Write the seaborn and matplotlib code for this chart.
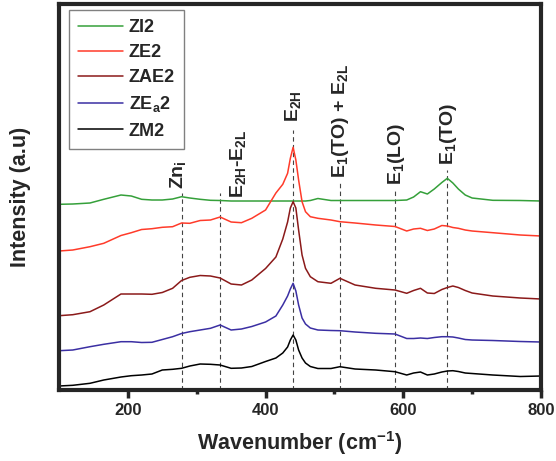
import numpy as np
import pandas as pd
import matplotlib as mpl
mpl.use('Agg')
import matplotlib.pyplot as plt
import seaborn as sns

# Raman shift grid (cm^-1) and offset spectra
wavenumber = [100, 120, 145, 165, 190, 205, 220, 235, 250, 265, 278, 290,
              305, 320, 334, 350, 365, 380, 400, 415, 425, 432, 436, 440,
              444, 448, 453, 458, 465, 476, 495, 508, 530, 560, 588, 605,
              615, 625, 635, 645, 656, 664, 672, 680, 690, 700, 730, 770,
              800]

zi2 = [185.7, 186, 187, 190.7, 195, 194, 190.7, 190, 190, 191, 193.3, 192,
       190.7, 189.7, 189.5, 189, 189, 189, 189, 189, 189, 189, 189, 189,
       189, 189, 189, 189, 189.5, 191.5, 189.5, 189.5, 189.5, 189.5, 189.5,
       190, 193, 198.3, 196, 201, 207.5, 211.7, 207, 201, 195, 192, 189.7,
       189.5, 189]

ze2 = [139, 140, 143.3, 146.7, 154.5, 157.3, 160.5, 161.3, 162.7, 163.3,
       167, 166.7, 169.5, 170, 173, 168, 167.3, 171.7, 180, 197, 205.7,
       216.7, 231.7, 242.7, 230, 210, 188.3, 178.3, 173.3, 171.7, 170,
       168.3, 167, 165, 163.5, 159, 161, 161.7, 159.5, 161, 164.5, 164,
       162.5, 161.7, 160, 159, 157.3, 155, 154]

zae2 = [74.3, 75.3, 78.3, 85, 96, 96, 96, 95.7, 97.5, 101.7, 109.5, 112.7,
        114.5, 114, 112, 106, 105, 110, 121.5, 133, 151, 168, 182, 188.3,
        182, 160, 135, 121.7, 113.3, 108.3, 106.7, 111.7, 105, 101.7, 100,
        96.7, 99.5, 101.7, 97, 96.5, 100.5, 102.5, 104, 102.5, 99.5, 97, 94,
        92, 91]

zea2 = [39.3, 40, 43.3, 45.7, 48.3, 48.3, 47.5, 47.7, 50.5, 53.3, 56.5,
        58.3, 60, 61.7, 65, 60, 61, 63.5, 68, 74, 85, 94, 101, 106.7, 99,
        85, 72, 66, 62, 60, 59.5, 59.3, 58, 56.7, 56, 51.5, 51.5, 52, 51.5,
        52.5, 53.3, 53.3, 53, 52, 50.5, 50, 49.5, 48.5, 48]

zm2 = [4, 4.7, 6.7, 10, 13, 14.3, 15, 16, 20, 20.7, 21.7, 24, 26, 25.7, 25,
       21.7, 22, 23.5, 28.5, 32, 37, 43, 50, 55, 50, 40, 32, 27, 23.5, 21.5,
       21.5, 23.3, 21, 20, 18.3, 15, 17, 18, 15, 16, 18, 19, 19.3, 18.5, 17,
       16.5, 15, 13.5, 14]

sample_names = ['ZI2', 'ZE2', 'ZAE2', 'ZE$_a$2', 'ZM2']
sample_colors = ['#35a03a', '#ff3b2a', '#8b1a1a', '#3b2fa3', '#000000']

# phonon mode assignments
mode_labels = ['Zn$_i$', 'E$_{2H}$-E$_{2L}$', 'E$_{2H}$',
               'E$_1$(TO) + E$_{2L}$', 'E$_1$(LO)', 'E$_1$(TO)']
mode_pos = [278, 334, 440, 508, 588, 664]


def main():
    sns.set_style('ticks')
    plt.rcParams['font.family'] = ['Liberation Sans', 'DejaVu Sans']
    plt.rcParams['font.weight'] = 'bold'
    plt.rcParams['mathtext.default'] = 'regular'

    spectra = pd.DataFrame({
        'Wavenumber': wavenumber * 5,
        'Intensity': zi2 + ze2 + zae2 + zea2 + zm2,
        'Sample': np.repeat(sample_names, len(wavenumber)),
        })

    fig = plt.figure(figsize=(5.56, 4.61), dpi=100)
    ax = fig.add_axes([0.1061, 0.154, 0.8669, 0.8384])

    sns.lineplot(data=spectra, x='Wavenumber', y='Intensity', hue='Sample',
                 hue_order=sample_names, palette=sample_colors, sort=False,
                 estimator=None, lw=1.1, ax=ax)

    # dashed guides and rotated mode labels
    guide_top = [197, 197, 260, 208, 200, 220]
    lab_x = [273, 360, 439.5, 509.5, 590.5, 665]
    lab_y = [201, 192, 268, 212, 205, 225]
    ax.vlines(mode_pos, 0, guide_top, colors='#444444', lw=0.8,
              linestyles=(0, (4, 3)), zorder=1)
    for lab, x, y in zip(mode_labels, lab_x, lab_y):
        ax.text(x, y, lab, rotation=90, ha='center', va='bottom',
                fontsize=14, fontweight='bold')

    ax.set_xlim(100, 800)
    ax.set_ylim(0, 386.5)
    ax.set_xticks([200, 400, 600, 800])
    ax.set_xticks([300, 500, 700], minor=True)
    ax.set_yticks([])

    for sp in ax.spines.values():
        sp.set_linewidth(3.0)
        sp.set_visible(True)
    ax.tick_params(axis='x', which='major', length=5.5, width=2.5,
                   labelsize=12, pad=4)
    ax.tick_params(axis='x', which='minor', length=3, width=2.5)

    ax.set_xlabel('Wavenumber (cm$^{-1}$)', fontsize=15.5,
                  fontweight='bold', labelpad=8)
    ax.set_ylabel('Intensity (a.u)', fontsize=15.5, fontweight='bold',
                  labelpad=20)

    leg = ax.legend(loc='upper left', bbox_to_anchor=(0.021, 0.983),
                    borderaxespad=0, fontsize=13, frameon=True,
                    fancybox=False, framealpha=1, edgecolor='#808080',
                    handlelength=2.5, handletextpad=0.3, labelspacing=0.45,
                    borderpad=0.5)
    leg.get_frame().set_linewidth(1.0)
    for txt in leg.get_texts():
        txt.set_fontweight('bold')

    plt.savefig('out.png', dpi=100)
    plt.close()


if __name__ == '__main__':
    main()
